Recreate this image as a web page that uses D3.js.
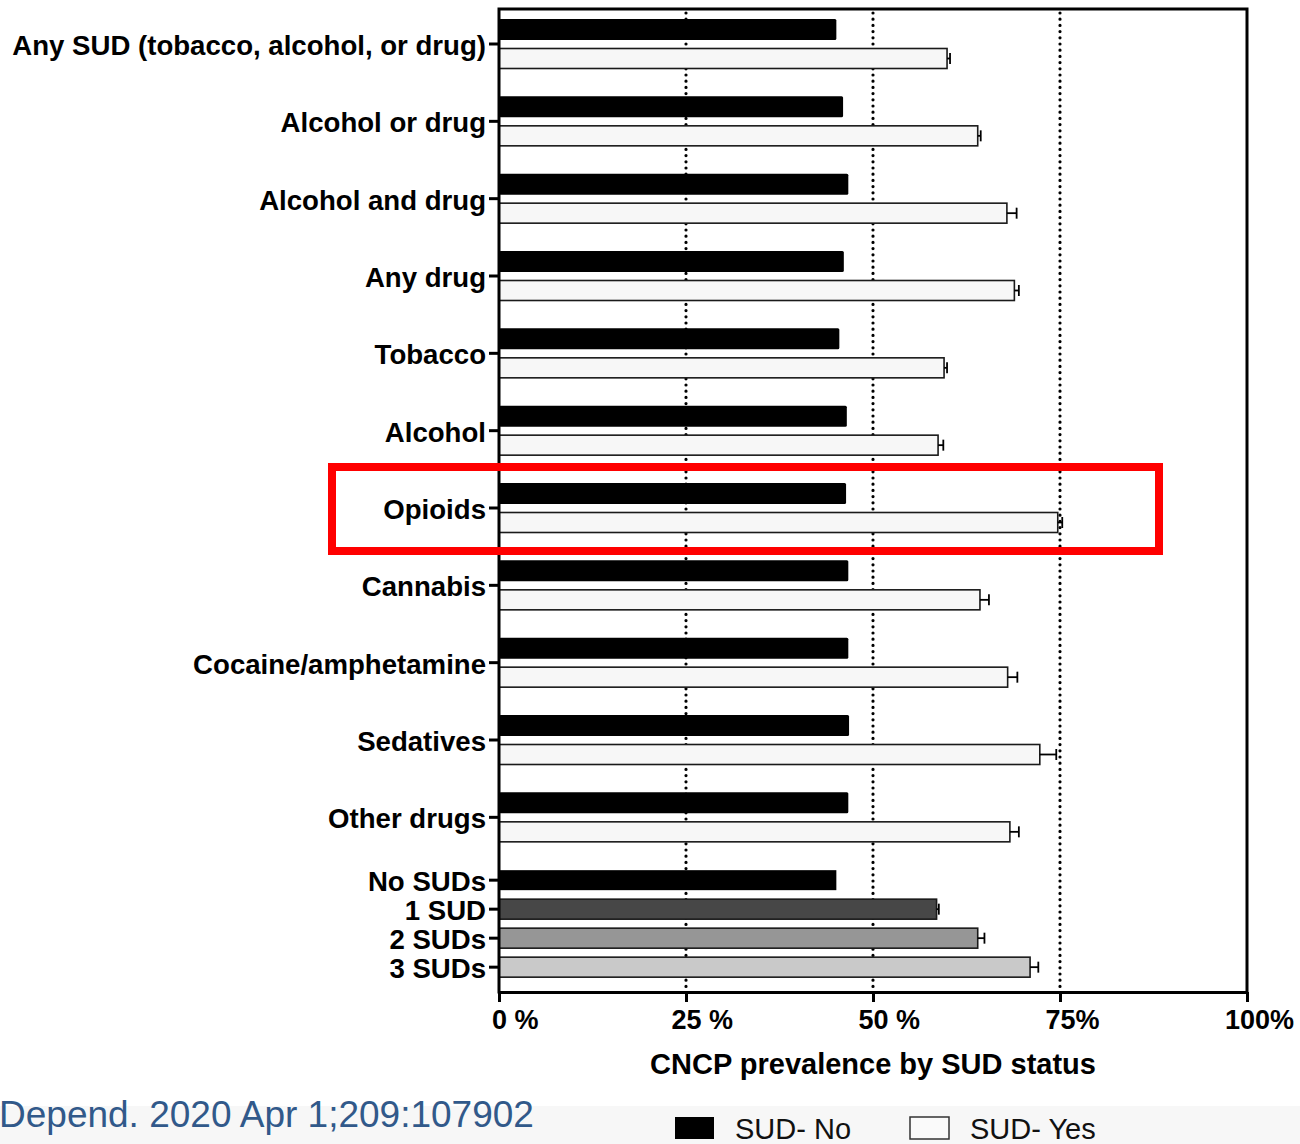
<!DOCTYPE html>
<html>
<head>
<meta charset="utf-8">
<script src="https://cdn.jsdelivr.net/npm/d3@7"></script>
<style>
  body { margin: 0; background: #fff; }
  svg { display: block; font-family: "Liberation Sans", Arial, Helvetica, sans-serif; }
</style>
</head>
<body>
<svg id="chart"></svg>
<script>
// --- DATA ---
const categories = [
  "Any SUD (tobacco, alcohol, or drug)", "Alcohol or drug", "Alcohol and drug", "Any drug",
  "Tobacco", "Alcohol", "Opioids", "Cannabis", "Cocaine/amphetamine", "Sedatives", "Other drugs"
];
const sudNo = [45.1, 46.0, 46.7, 46.1, 45.5, 46.5, 46.4, 46.7, 46.7, 46.8, 46.7];
const sudYes = [59.9, 64.0, 67.9, 68.9, 59.5, 58.7, 74.7, 64.3, 68.0, 72.3, 68.3];
const sudYesErr = [0.4, 0.4, 1.3, 0.6, 0.4, 0.7, 0.6, 1.2, 1.3, 2.2, 1.2];

const countLabels = ["No SUDs", "1 SUD", "2 SUDs", "3 SUDs"];
const countValues = [45.1, 58.5, 64.0, 71.0];
const countErr = [0, 0.3, 0.9, 1.1];

const xTicks = [0, 25, 50, 75, 100];
const xTickLabels = ["0 %", "25 %", "50 %", "75%", "100%"];
const gridValues = [25, 50, 75];
const legendLabels = ["SUD- No", "SUD- Yes"];

(function() {
  const width = 1300, height = 1144;
  const plot = { left: 499, right: 1247, top: 9, bottom: 992 };
  const countFills = ["#000000", "#474747", "#969696", "#c9c9c9"];

  const svg = d3.select("#chart").attr("width", width).attr("height", height);

  // bottom grey band
  svg.append("rect").attr("x", 0).attr("y", 1106).attr("width", width).attr("height", height - 1106)
    .attr("fill", "#f7f7f7");

  // rows: each group = 2 rows + 2/3 row gap, the SUD count block = 4 rows
  const groupStep = 2 + 2 / 3;
  const pairRows = categories.map((c, i) => ({
    label: c, base: i * groupStep, no: sudNo[i], yes: sudYes[i], err: sudYesErr[i]
  }));
  const countBase = categories.length * groupStep;
  const countRows = countLabels.map((c, k) => ({
    label: c, row: countBase + k, value: countValues[k], err: countErr[k], fill: countFills[k]
  }));

  const x = d3.scaleLinear().domain([0, 100]).range([plot.left, plot.right]);
  const y = d3.scaleLinear().domain([0, 1]).range([29.5, 58.5]);
  const barH = 20;

  // dotted gridlines
  svg.append("g").selectAll("line").data(gridValues).join("line")
    .attr("x1", d => x(d)).attr("x2", d => x(d))
    .attr("y1", plot.top + 4).attr("y2", plot.bottom)
    .attr("stroke", "#000").attr("stroke-width", 3.2)
    .attr("stroke-linecap", "round").attr("stroke-dasharray", "0 6.2");

  const bars = svg.append("g");

  // SUD-No bars
  bars.selectAll(".no").data(pairRows).join("rect")
    .attr("class", "no")
    .attr("x", x(0)).attr("y", d => y(d.base) - barH / 2 - 0.5)
    .attr("width", d => x(d.no) - x(0)).attr("height", barH + 1)
    .attr("rx", 1.5)
    .attr("fill", "#000");

  // SUD-Yes bars
  bars.selectAll(".yes").data(pairRows).join("rect")
    .attr("class", "yes")
    .attr("x", x(0)).attr("y", d => y(d.base + 1) - barH / 2)
    .attr("width", d => x(d.yes) - x(0)).attr("height", barH)
    .attr("fill", "#f7f7f7").attr("stroke", "#1a1a1a").attr("stroke-width", 1.6);

  // count bars
  bars.selectAll(".cnt").data(countRows).join("rect")
    .attr("class", "cnt")
    .attr("x", x(0)).attr("y", d => y(d.row) - barH / 2)
    .attr("width", d => x(d.value) - x(0)).attr("height", barH)
    .attr("fill", d => d.fill).attr("stroke", "#1a1a1a").attr("stroke-width", d => d.fill === "#000000" ? 0 : 1.6);

  // error bars
  const errData = pairRows.map(d => ({ v: d.yes, e: d.err, yc: y(d.base + 1) }))
    .concat(countRows.filter(d => d.err > 0).map(d => ({ v: d.value, e: d.err, yc: y(d.row) })));
  const eg = bars.append("g").attr("stroke", "#000").attr("stroke-width", 1.8);
  eg.selectAll(".eh").data(errData).join("line")
    .attr("x1", d => x(d.v)).attr("x2", d => x(d.v + d.e))
    .attr("y1", d => d.yc).attr("y2", d => d.yc);
  eg.selectAll(".ec").data(errData).join("line")
    .attr("x1", d => x(d.v + d.e)).attr("x2", d => x(d.v + d.e))
    .attr("y1", d => d.yc - 5.5).attr("y2", d => d.yc + 5.5);

  // frame
  const frame = svg.append("g").attr("stroke", "#000").attr("stroke-width", 3).attr("fill", "none");
  frame.append("path").attr("d", `M${plot.left},${plot.bottom}V${plot.top}H${plot.right}V${plot.bottom}`)
    .attr("stroke-linecap", "square");

  // y labels + ticks
  const yLabelData = pairRows.map(d => ({ label: d.label, yc: y(d.base + 0.5) }))
    .concat(countRows.map(d => ({ label: d.label, yc: y(d.row) })));
  const yl = svg.append("g");
  yl.selectAll("line").data(yLabelData).join("line")
    .attr("x1", plot.left - 10).attr("x2", plot.left)
    .attr("y1", d => d.yc).attr("y2", d => d.yc)
    .attr("stroke", "#000").attr("stroke-width", 3);
  yl.selectAll("text").data(yLabelData).join("text")
    .attr("x", plot.left - 13).attr("y", d => d.yc).attr("dy", "0.4em")
    .attr("text-anchor", "end")
    .attr("font-size", 27.6).attr("font-weight", "bold").attr("fill", "#000")
    .text(d => d.label);

  // x axis
  const xAxis = svg.append("g")
    .attr("transform", `translate(0,${plot.bottom})`)
    .call(d3.axisBottom(x).tickValues(xTicks).tickFormat((d, i) => xTickLabels[i]).tickSize(10).tickSizeOuter(0));
  xAxis.select(".domain").attr("stroke-width", 3).attr("stroke", "#000");
  xAxis.selectAll(".tick line").attr("stroke-width", 3).attr("stroke", "#000");
  xAxis.selectAll(".tick text")
    .attr("font-size", 27).attr("font-weight", "bold").attr("fill", "#000")
    .attr("font-family", "'Liberation Sans', Arial, sans-serif")
    .attr("y", 18).attr("dy", "0.71em")
    .each(function(d) {
      // centre the number part on the tick, let the % sign trail
      const t = d3.select(this);
      const full = t.text();
      t.text(String(d));
      const numW = this.getComputedTextLength();
      t.text(full).attr("text-anchor", "start").attr("x", -numW / 2);
    });

  // x title
  svg.append("text")
    .attr("x", x(50)).attr("y", 1074).attr("text-anchor", "middle")
    .attr("font-size", 29).attr("font-weight", "bold").attr("fill", "#000")
    .text("CNCP prevalence by SUD status");

  // legend
  const leg = svg.append("g");
  const legX = [675, 910];
  leg.selectAll("rect").data(legendLabels).join("rect")
    .attr("x", (d, i) => legX[i]).attr("y", 1117).attr("width", 39).attr("height", 22)
    .attr("fill", (d, i) => i === 0 ? "#000" : "#fafafa")
    .attr("stroke", (d, i) => i === 0 ? "none" : "#333").attr("stroke-width", 1.5);
  leg.selectAll("text").data(legendLabels).join("text")
    .attr("x", (d, i) => legX[i] + 60).attr("y", 1139)
    .attr("font-size", 29).attr("fill", "#111")
    .text(d => d);

  // citation
  svg.append("text")
    .attr("x", -1).attr("y", 1127)
    .attr("font-size", 37).attr("fill", "#31598a")
    .text("Depend. 2020 Apr 1;209:107902");

  // highlight box
  svg.append("rect")
    .attr("x", 332).attr("y", 467).attr("width", 827).attr("height", 84)
    .attr("fill", "none").attr("stroke", "#ff0000").attr("stroke-width", 8);
})();
</script>
</body>
</html>
